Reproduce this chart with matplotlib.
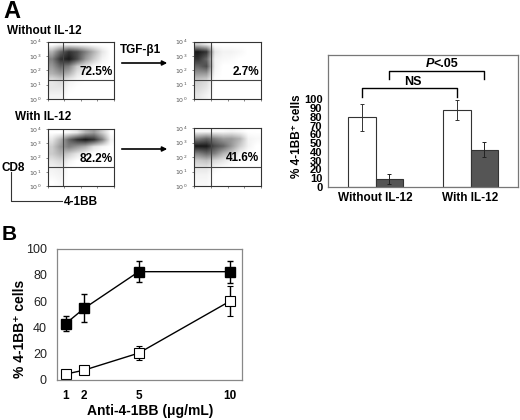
import numpy as np
import matplotlib
matplotlib.use("Agg")
import matplotlib.pyplot as plt

plt.rcParams['font.family'] = ['Liberation Sans', 'DejaVu Sans']

W, H = 520, 420

# ---- panel A: flow dot plots, density read by eye on a coarse grid
# rows: CD8 10^4 -> 10^0 (half decades), cols: 4-1BB 10^0 -> 10^4 (half decades)
dens_no_il12 = [
    [0, 0.5, 0.5, 0.3, 0.2, 0, 0, 0],
    [3, 6, 8, 7, 5, 3, 1, 0],
    [5, 8, 9, 7, 4, 2, 0.5, 0],
    [4, 6, 5, 2, 1, 0.3, 0, 0],
    [3, 4, 3, 1, 0.5, 0, 0, 0],
    [1, 1.5, 0.5, 0.2, 0, 0, 0, 0],
    [1, 1, 0.2, 0, 0, 0, 0, 0],
    [0.5, 0.5, 0, 0, 0, 0, 0, 0],
]
dens_no_il12_tgf = [
    [2, 1, 0, 0, 0, 0, 0, 0],
    [9, 8, 1, 0.5, 0.5, 0.3, 0, 0],
    [8, 6, 0.5, 0.3, 0.2, 0, 0, 0],
    [6, 7, 0.5, 0, 0, 0, 0, 0],
    [4, 4, 0.3, 0, 0, 0, 0, 0],
    [2, 1.5, 0, 0, 0, 0, 0, 0],
    [1.5, 1, 0, 0, 0, 0, 0, 0],
    [1, 0.5, 0, 0, 0, 0, 0, 0],
]
dens_il12 = [
    [0, 0, 0.3, 1, 3, 4, 2, 0],
    [1, 3, 6, 8, 9, 8, 5, 0.5],
    [2, 4, 5, 4, 3, 1, 0.3, 0],
    [2, 3, 2, 1, 0.3, 0, 0, 0],
    [1, 1.5, 0.5, 0, 0, 0, 0, 0],
    [0.5, 0.7, 0, 0, 0, 0, 0, 0],
    [0.3, 0.5, 0, 0, 0, 0, 0, 0],
    [0, 0.3, 0, 0, 0, 0, 0, 0],
]
dens_il12_tgf = [
    [0.3, 0.3, 0.3, 0.3, 0.5, 0.3, 0, 0],
    [5, 6, 5, 4, 4, 3, 0.5, 0.3],
    [9, 9, 7, 6, 4, 2, 0.5, 0],
    [5, 6, 5, 3, 2, 0.5, 0, 0],
    [2, 2.5, 1.5, 1, 0.3, 0, 0, 0],
    [1, 1, 0.3, 0, 0, 0, 0, 0],
    [0.5, 0.5, 0, 0, 0, 0, 0, 0],
    [0.3, 0.3, 0, 0, 0, 0, 0, 0],
]
pct_labels = ["72.5%", "2.7%", "82.2%", "41.6%"]
gate_x = [0.92, 1.02, 0.92, 1.02]
gate_y = 1.33

# ---- panel A: bar chart
bar_groups = ["Without IL-12", "With IL-12"]
bar_ctrl = [79.5, 88]
bar_ctrl_err = [15.5, 11]
bar_tgf = [9, 42.5]
bar_tgf_err = [6, 8.5]

# ---- panel B
dose = [1, 2, 5, 10]
filled = [43, 54.5, 82.5, 82.5]
filled_err = [5.8, 10.7, 7.8, 8.3]
open_sq = [4.5, 7.5, 20.5, 60]
open_err = [0, 0, 5.6, 11.5]


def box(l, t, r, b):
    return [l / W, 1 - b / H, (r - l) / W, (b - t) / H]


def fx(x):
    return x / W


def fy(y):
    return 1 - y / H


fig = plt.figure(figsize=(5.2, 4.2), dpi=100)

# flow plots
flow_boxes = [(47.7, 41.7, 114, 99), (194, 41.7, 261, 99),
              (47.7, 129, 114, 186), (194, 128, 261, 186)]
flow_dens = [dens_no_il12, dens_no_il12_tgf, dens_il12, dens_il12_tgf]

for i in range(4):
    ax = fig.add_axes(box(*flow_boxes[i]))
    ax.imshow(np.array(flow_dens[i]), extent=[0, 4, 0, 4], cmap='gray_r',
              vmin=0, vmax=10, interpolation='bilinear', aspect='auto')
    ax.set_xlim(0, 4)
    ax.set_ylim(0, 4)
    ax.axvline(gate_x[i], color='#444444', lw=0.8)
    ax.axhline(gate_y, color='#444444', lw=0.8)
    ax.set_yticks([0, 1, 2, 3, 4])
    ax.set_yticklabels(['$10^{%d}$' % k for k in range(5)], fontsize=4.5, color='#555555')
    ax.set_xticks([0, 1, 2, 3, 4])
    ax.set_xticklabels([])
    ax.tick_params(length=1.5, width=0.5, pad=3, colors='#555555')
    for s in ax.spines.values():
        s.set_color('#333333')
        s.set_linewidth(0.8)
    ax.text(3.9, 1.9, pct_labels[i], ha='right', va='center', fontsize=8.5,
            fontweight='bold')

fig.text(fx(3), fy(11), "A", fontsize=17, fontweight='bold', va='center', ha='left')
fig.text(fx(7), fy(31), "Without IL-12", fontsize=8.5, fontweight='bold', va='center')
fig.text(fx(15), fy(117), "With IL-12", fontsize=8.5, fontweight='bold', va='center')
fig.text(fx(141), fy(50), "TGF-β1", fontsize=8.5, fontweight='bold', va='center', ha='center')
for ya in [63, 149]:
    fig.add_artist(matplotlib.patches.FancyArrowPatch(
        (fx(119), fy(ya)), (fx(170), fy(ya)), transform=fig.transFigure,
        arrowstyle='-|>', mutation_scale=7, color='black', lw=1.2))
fig.text(fx(2), fy(168), "CD8", fontsize=8.5, fontweight='bold', va='center')
fig.text(fx(64), fy(202), "4-1BB", fontsize=8.5, fontweight='bold', va='center')
fig.add_artist(matplotlib.lines.Line2D([fx(11), fx(11), fx(62)], [fy(172), fy(200.5), fy(200.5)],
                                       transform=fig.transFigure, color='#333333', lw=0.8))

# bar chart
axb = fig.add_axes(box(328, 55, 518, 186.7))
g = np.arange(len(bar_groups))
w = 0.288
axb.bar(g - w / 2, bar_ctrl, w, color='white', edgecolor='#333333', lw=0.8,
        yerr=bar_ctrl_err, error_kw=dict(ecolor='#333333', elinewidth=0.7, capsize=1.5, capthick=0.7))
axb.bar(g + w / 2, bar_tgf, w, color='#555555', edgecolor='#333333', lw=0.8,
        yerr=bar_tgf_err, error_kw=dict(ecolor='#222222', elinewidth=0.7, capsize=1.5, capthick=0.7))
axb.set_xlim(-0.5, 1.5)
axb.set_ylim(0, 151)
axb.set_yticks(range(0, 101, 10))
axb.set_yticklabels([str(v) for v in range(0, 101, 10)], fontsize=8, fontweight='bold')
axb.set_xticks(g)
axb.set_xticklabels(bar_groups, fontsize=8.5, fontweight='bold')
axb.tick_params(length=0, pad=4)
for s in axb.spines.values():
    s.set_color('#777777')
    s.set_linewidth(0.9)
# significance brackets
axb.plot([-w / 2, -w / 2, 1 - w / 2, 1 - w / 2], [103, 113.3, 113.3, 103], color='black', lw=1)
axb.text(0.39, 120, "NS", ha='center', va='center', fontsize=9, fontweight='bold')
axb.plot([w / 2, w / 2, 1 + w / 2, 1 + w / 2], [124, 132.7, 132.7, 124], color='black', lw=1)
axb.text(0.615, 141, "P", ha='right', va='center', fontsize=9, fontweight='bold', fontstyle='italic')
axb.text(0.615, 141, "<.05", ha='left', va='center', fontsize=9, fontweight='bold')
fig.text(fx(297), fy(136), "% 4-1BB⁺ cells", rotation=90, fontsize=8.5, fontweight='bold',
         ha='center', va='center')

# panel B
axl = fig.add_axes(box(56.7, 248.7, 241.7, 380))
axl.errorbar(dose, filled, yerr=filled_err, color='black', lw=1, marker='s', ms=7,
             mfc='black', mec='black', ecolor='black', elinewidth=1, capsize=2.5, capthick=1)
axl.errorbar(dose, open_sq, yerr=open_err, color='black', lw=1, marker='s', ms=7,
             mfc='white', mec='black', mew=0.8, ecolor='black', elinewidth=1, capsize=2.5, capthick=1)
axl.set_xlim(0.5, 10.65)
axl.set_ylim(0, 100)
axl.set_yticks(range(0, 101, 20))
axl.set_yticklabels([str(v) for v in range(0, 101, 20)], fontsize=9, color='#222222')
axl.set_xticks(dose)
axl.set_xticklabels([str(d) for d in dose], fontsize=8.5, fontweight='bold')
axl.tick_params(length=0, pad=7)
for s in axl.spines.values():
    s.set_color('#888888')
    s.set_linewidth(0.9)
fig.text(fx(20), fy(329), "% 4-1BB⁺ cells", rotation=90, fontsize=10, fontweight='bold',
         ha='center', va='center')
fig.text(fx(150), fy(411), "Anti-4-1BB (μg/mL)", fontsize=10, fontweight='bold',
         ha='center', va='center')
fig.text(fx(2), fy(235), "B", fontsize=15, fontweight='bold', va='center', ha='left')

fig.savefig("out.png", dpi=100, facecolor='white')
